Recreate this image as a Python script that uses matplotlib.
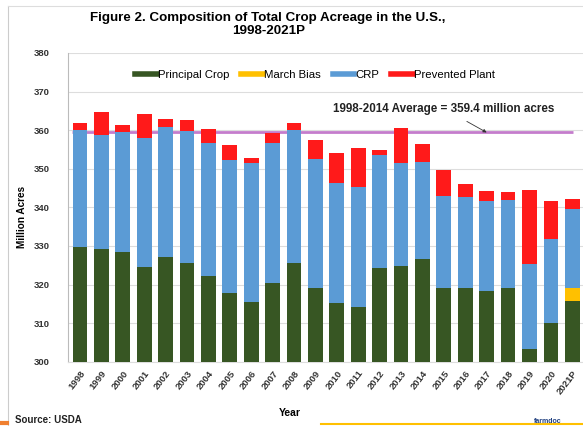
import numpy as np
import matplotlib
matplotlib.use("Agg")
import matplotlib.pyplot as plt
from matplotlib.lines import Line2D

plt.rcParams['font.family'] = ['Liberation Sans', 'DejaVu Sans']

years = ['1998', '1999', '2000', '2001', '2002', '2003', '2004', '2005', '2006', '2007',
         '2008', '2009', '2010', '2011', '2012', '2013', '2014', '2015', '2016', '2017',
         '2018', '2019', '2020', '2021P']
principal_crop = [329.8, 329.1, 328.5, 324.6, 327.2, 325.5, 322.2, 317.7, 315.5, 320.3,
                  325.5, 319.0, 315.3, 314.2, 324.2, 324.8, 326.6, 319.0, 319.0, 318.3,
                  319.2, 303.2, 310.1, 315.8]
march_bias = [0] * 23 + [3.2]
crp = [30.2, 29.6, 31.1, 33.3, 33.7, 34.3, 34.5, 34.6, 35.9, 36.5,
       34.5, 33.4, 31.1, 31.1, 29.3, 26.6, 25.1, 23.9, 23.7, 23.3,
       22.7, 22.0, 21.7, 20.6]
prevented_plant = [1.9, 5.9, 1.7, 6.4, 2.1, 2.8, 3.6, 3.8, 1.5, 2.4,
                   1.9, 5.0, 7.6, 10.2, 1.3, 9.1, 4.6, 6.8, 3.3, 2.7,
                   2.0, 19.3, 9.9, 2.5]
avg_1998_2014 = 359.4

green = '#375623'
yellow = '#ffc000'
blue = '#5b9bd5'
red = '#ff1a1a'

fig = plt.figure(figsize=(5.83, 4.26), dpi=100)
ax = fig.add_axes([0.1166, 0.151, 0.8834, 0.7246])

x = np.arange(len(years))
w = 0.69
pc = np.array(principal_crop)
mb = np.array(march_bias)
cr = np.array(crp)
pp = np.array(prevented_plant)

ax.bar(x, pc, w, color=green, zorder=3)
ax.bar(x, mb, w, bottom=pc, color=yellow, zorder=3)
ax.bar(x, cr, w, bottom=pc + mb, color=blue, zorder=3)
ax.bar(x, pp, w, bottom=pc + mb + cr, color=red, zorder=3)

# average line sits behind the bars
ax.hlines(avg_1998_2014, -0.37, 23.04, color='#c47ccc', lw=2, zorder=2)
ax.annotate('1998-2014 Average = 359.4 million acres', xy=(19.0, avg_1998_2014),
            xytext=(17.0, 365.6), ha='center', va='center', fontsize=8.4,
            fontweight='bold', color='#222222',
            arrowprops=dict(arrowstyle='-|>', color='#333333', lw=0.6,
                            mutation_scale=5, shrinkA=6, shrinkB=0))

ax.set_xlim(-0.56, 23.5)
ax.set_ylim(300, 380)
ax.set_yticks(np.arange(300, 381, 10))
ax.set_xticks(x)
ax.set_xticklabels(years, rotation=52, ha='right', rotation_mode='anchor',
                   fontsize=6.8, fontweight='bold', color='#333333')
ax.tick_params(axis='y', length=0, pad=13, labelsize=6.8, labelcolor='#333333')
for lbl in ax.get_yticklabels():
    lbl.set_fontweight('bold')
ax.tick_params(axis='x', length=0, pad=5)
ax.grid(axis='y', color='#dddddd', lw=0.8, zorder=0)
ax.set_axisbelow(True)
for s in ['top', 'right']:
    ax.spines[s].set_visible(False)
ax.spines['left'].set_color('#bbbbbb')
ax.spines['bottom'].set_color('#dddddd')

ax.set_ylabel('Million Acres', fontsize=7.2, fontweight='bold')
ax.yaxis.set_label_coords(-0.079, 0.47)
ax.set_xlabel('Year', fontsize=7.5, fontweight='bold')
ax.xaxis.set_label_coords(0.431, -0.15)

handles = [Line2D([], [], color=c, lw=4) for c in (green, yellow, blue, red)]
ax.legend(handles, ['Principal Crop', 'March Bias', 'CRP', 'Prevented Plant'],
          ncol=4, loc='center', bbox_to_anchor=(0.48, 0.93), frameon=False,
          fontsize=8.2, handlelength=1.9, handletextpad=0.15, columnspacing=1.0)

fig.text(0.46, 0.972, 'Figure 2. Composition of Total Crop Acreage in the U.S.,\n1998-2021P',
         ha='center', va='top', fontsize=9.6, fontweight='bold', linespacing=1.1)
fig.text(0.026, 0.008, 'Source: USDA', fontsize=7, fontweight='bold', color='#222222')

# outer frame lines and footer strip
fig.add_artist(Line2D([0.014, 0.014], [0.0, 0.986], color='#cccccc', lw=0.8))
fig.add_artist(Line2D([0.014, 1.0], [0.986, 0.986], color='#dddddd', lw=0.8))
fig.add_artist(Line2D([0.55, 1.0], [0.004, 0.004], color='#ffc000', lw=1.5))
fig.add_artist(Line2D([0.0, 0.012], [0.006, 0.006], color='#f08030', lw=3))
fig.text(0.915, 0.008, 'farmdoc', fontsize=5, fontweight='bold', color='#1f3f7f')

fig.savefig('out.png', dpi=100)
